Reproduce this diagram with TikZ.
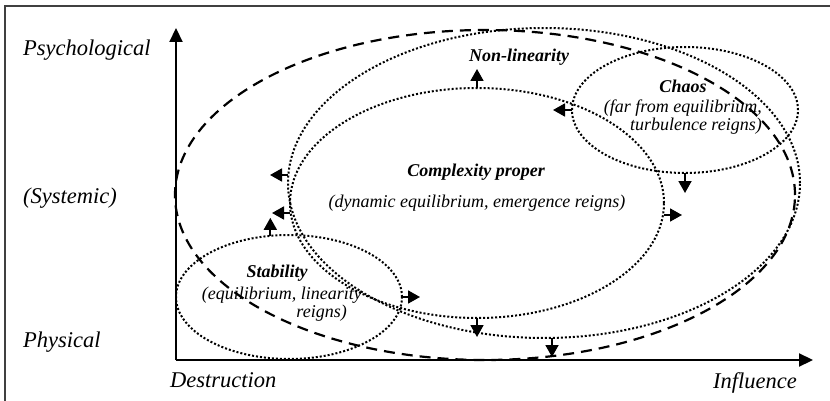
\documentclass[tikz,border=0pt]{standalone}
\usepackage{fontspec}
\setmainfont{Liberation Serif}
\usetikzlibrary{shapes.geometric,arrows.meta}
\begin{document}
\begin{tikzpicture}[x=1pt,y=-1pt,
  dotline/.style={draw, line width=2pt, dash pattern=on 2pt off 2pt},
  dashline/.style={draw, line width=2.2pt, dash pattern=on 11pt off 7pt},
  ell/.style={ellipse, inner sep=0pt, outer sep=0pt},
  arr/.style={line width=1.8pt, -{Triangle[length=12pt,width=13pt]}},
  axisline/.style={line width=2.2pt, -{Triangle[length=14pt,width=13pt]}},
  axlabel/.style={font=\fontsize{22.5}{26}\selectfont\itshape, inner sep=0pt},
  lbl/.style={font=\fontsize{18}{16}\selectfont\itshape, inner sep=0pt},
  blbl/.style={font=\fontsize{18}{21}\selectfont\bfseries\itshape, inner sep=0pt},
  frameline/.style={line width=1.4pt, draw=black!75}]
\useasboundingbox (0,0) rectangle (830,401);
% frame
\coordinate (fbl) at (5,401);
\coordinate (ftl) at (5,6);
\coordinate (ftr) at (830,6);
\draw[frameline] (fbl) -- (ftl) -- (ftr);
% axes
\coordinate (O) at (176,360);
\coordinate (ytip) at (176,28);
\coordinate (xtip) at (813,360);
\draw[axisline] (O) -- (ytip);
\draw[axisline] (O) -- (xtip);
% ellipses
\node[ell, dashline, minimum width=620pt, minimum height=330pt] (big) at (485,195) {};
\node[ell, dotline, minimum width=512pt, minimum height=310pt] (nonlin) at (544,183) {};
\node[ell, dotline, minimum width=374pt, minimum height=230pt] (comp) at (477,203) {};
\node[ell, dotline, minimum width=226pt, minimum height=126pt] (chaos) at (685,110) {};
\node[ell, dotline, minimum width=226pt, minimum height=124pt] (stab) at (289,297) {};
% arrows
\draw[arr] (comp.north) -- ++(0,-19);
\draw[arr] (chaos.west) -- ++(-19,0);
\draw[arr] (chaos.south) -- ++(0,20);
\draw[arr] ([yshift=8pt]nonlin.west) -- ++(-18,0);
\draw[arr] ([yshift=-10pt]comp.west) -- ++(-18,0);
\draw[arr] (stab.107) -- ++(0,-18);
\draw[arr] (stab.east) -- ++(18,0);
\draw[arr] ([yshift=-12pt]comp.east) -- ++(18,0);
\draw[arr] (comp.south) -- ++(0,19);
\draw[arr] ([xshift=8pt]nonlin.south) -- ++(0,19);
% axis labels
\node[axlabel, anchor=base west] (psy) at (23,56) {Psychological};
\node[axlabel, anchor=base west] (sys) at (23,203) {(Systemic)};
\node[axlabel, anchor=base west] (phy) at (23,347) {Physical};
\node[axlabel, anchor=base west] (des) at (170,387) {Destruction};
\node[axlabel, anchor=base east] (inf) at (797,388) {Influence};
% inner labels
\node[blbl, anchor=base] (tnl) at (519,62) {Non-linearity};
\node[blbl, anchor=base] (tch) at (683,93) {Chaos};
\node[lbl, align=right, anchor=north east] (tch1) at (762,100) {(far from equilibrium,\\ turbulence reigns)};
\node[blbl, anchor=base] (tcp) at (476,176) {Complexity proper};
\node[lbl, anchor=base] (tcp1) at (477,207) {(dynamic equilibrium, emergence reigns)};
\node[blbl, anchor=base] (tst) at (277,277) {Stability};
\node[lbl, align=right, anchor=north east] (tst1) at (362,287) {(equilibrium, linearity\\ reigns)\hspace*{15pt}};
\end{tikzpicture}
\end{document}
